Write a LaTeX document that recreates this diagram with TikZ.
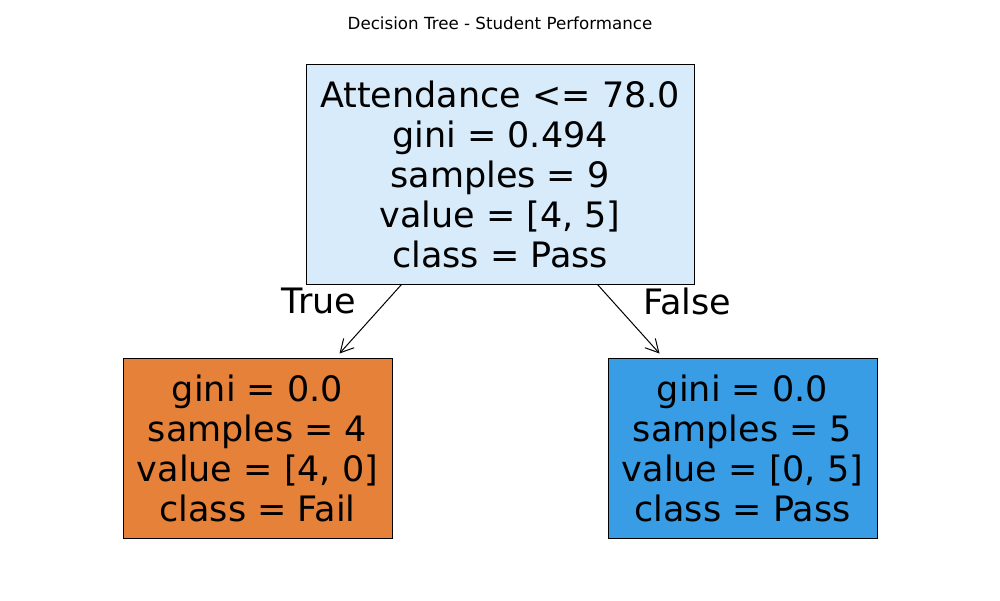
\documentclass[tikz,border=0pt]{standalone}
\usepackage{fontspec}
\setmainfont{DejaVu Sans}
\usetikzlibrary{arrows.meta}

\definecolor{rootblue}{RGB}{215,235,250}
\definecolor{failorange}{RGB}{229,129,57}
\definecolor{passblue}{RGB}{57,157,229}

\tikzset{
	treebox/.style={draw=black, line width=1pt, inner sep=0pt, align=center,
		font=\fontsize{35}{40}\selectfont},
	edgelabel/.style={font=\fontsize{35}{40}\selectfont, inner sep=0pt}
}

\begin{document}
\begin{tikzpicture}[x=1pt, y=-1pt, >={Straight Barb[length=13pt, width=14pt]}]

	%% canvas
	\useasboundingbox (0,0) rectangle (1000,600);
	\fill[white] (0,0) rectangle (1000,600);

	\node[font=\fontsize{16.7}{20}\selectfont] (title) at (500,23) {Decision Tree - Student Performance};

	%% split node
	\node[treebox, fill=rootblue, minimum width=388pt, minimum height=220pt] (root) at (500,174)
		{Attendance <= 78.0\\gini = 0.494\\samples = 9\\value = [4, 5]\\class = Pass};

	%% leaves
	\node[treebox, fill=failorange, minimum width=269pt, minimum height=180pt] (fail) at (257.5,448)
		{gini = 0.0\\samples = 4\\value = [4, 0]\\class = Fail};
	\node[treebox, fill=passblue, minimum width=269pt, minimum height=180pt] (pass) at (742.5,448)
		{gini = 0.0\\samples = 5\\value = [0, 5]\\class = Pass};

	\draw[->, line width=1pt] ([xshift=96pt]root.south west) -- ([xshift=217pt, yshift=4pt]fail.north west);
	\draw[->, line width=1pt] ([xshift=-97pt]root.south east) -- ([xshift=-218pt, yshift=4pt]pass.north east);

	\node[edgelabel] (truelabel) at (319,301) {True};
	\node[edgelabel] (falselabel) at (687,301) {False};

\end{tikzpicture}
\end{document}
